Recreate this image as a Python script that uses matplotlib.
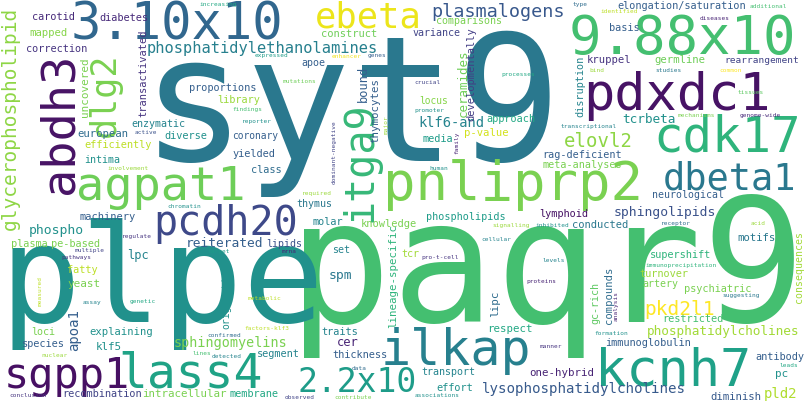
import matplotlib
matplotlib.use("Agg")
import matplotlib.pyplot as plt

# ---- data: the words of the cloud, grouped by weight ----
big_words = ["syt9", "paqr9", "plpe"]
large_words = ["3.10x10", "9.88x10", "pdxdc1", "cdk17", "pnliprp2", "agpat1",
               "kcnh7", "ilkap", "lass4", "abdh3", "sgpp1", "itga9", "pcdh20",
               "dbeta1", "ebeta", "dlg2", "2.2x10"]
medium_words = ["plasmalogens", "glycerophospholipid", "elovl2", "pkd2l1", "pld2",
                "phosphatidylethanolamines", "lysophosphatidylcholines",
                "phosphatidylcholines", "sphingomyelins", "sphingolipids",
                "reiterated", "phospho", "klf6-and", "tcrbeta", "spm", "cer", "lpc",
                "apoa1", "ceramides", "bound", "uncovered", "lipc"]
small_words = ["carotid", "diabetes", "mapped", "correction", "comparisons", "construct",
               "variance", "apoe", "p-value", "media", "locus", "approach", "basis",
               "kruppel", "germline", "rearrangement", "elongation/saturation",
               "rag-deficient", "meta-analyses", "neurological", "lymphoid", "conducted",
               "motifs", "supershift", "thymus", "phospholipids", "molar", "knowledge",
               "set", "tcr", "lipids", "traits", "respect", "thickness", "segment",
               "transport", "effort", "membrane", "one-hybrid", "european", "diverse",
               "coronary", "efficiently", "yielded", "intima", "class", "machinery",
               "plasma", "pe-based", "fatty", "yeast", "loci", "explaining", "species",
               "klf5", "recombination", "intracellular", "proportions", "library",
               "enzymatic", "turnover", "artery", "psychiatric", "restricted",
               "immunoglobulin", "antibody", "pc", "diminish", "transactivated",
               "developmentally", "thymocytes", "disruption", "consequences",
               "lineage-specific", "originating", "gc-rich", "compounds"]
tiny_words = ["increasing", "expressed", "enhancer", "genes", "mutations", "crucial",
              "promoter", "processes", "human", "type", "identified", "additional",
              "diseases", "bind", "studies", "common", "tissues", "mechanisms",
              "genome-wide", "transcriptional", "inhibited", "receptor", "acid", "levels",
              "immunoprecipitation", "required", "signalling", "cellular", "pro-t-cell",
              "mrna", "metabolic", "factors-klf3", "data", "observed", "contribute",
              "associations", "proteins", "suggesting", "formation", "manner", "leads",
              "active", "involvement", "chromatin", "regulate", "multiple", "pathways",
              "target", "assay", "genetic", "confirmed", "nuclear", "lines", "detected",
              "conclusion", "findings", "reporter", "dominant-negative", "family",
              "major", "measured", "analysis"]

# ---- layout (pixel positions of the cloud, not data) ----
# word: (x, y, size_px, rotation, viridis_value)
# horizontal: x = left ink edge, y = baseline ; vertical: x = baseline, y = ink start (bottom)
LAYOUT = {
    "syt9": (157, 161, 175, 0, 0.40),
    "plpe": (12, 322, 135, 0, 0.50),
    "paqr9": (303, 322, 172, 0, 0.70),
    "3.10x10": (75, 39, 50.5, 0, 0.33),
    "9.88x10": (573, 54, 54, 0, 0.70),
    "pdxdc1": (588, 110, 52, 0, 0.05),
    "cdk17": (658, 152, 49, 0, 0.65),
    "dbeta1": (666, 190, 37, 0, 0.40),
    "pnliprp2": (388, 200, 54, 0, 0.80),
    "agpat1": (80, 200, 47, 0, 0.78),
    "pcdh20": (157, 235, 40, 0, 0.22),
    "ilkap": (385, 365, 50, 0, 0.43),
    "kcnh7": (600, 385, 52, 0, 0.57),
    "lass4": (123, 388, 48, 0, 0.58),
    "sgpp1": (7, 388, 42, 0, 0.04),
    "2.2x10": (300, 392, 33, 0, 0.55),
    "ebeta": (318, 28, 35.5, 0, 0.97),
    "abdh3": (72, 190, 47, 90, 0.05),
    "dlg2": (115, 134, 35, 90, 0.80),
    "itga9": (372, 218, 40, 90, 0.67),
    "plasmalogens": (433, 17, 18.5, 0, 0.27),
    "glycerophospholipid": (16, 228, 19.5, 90, 0.83),
    "elovl2": (566, 147, 19, 0, 0.83),
    "pkd2l1": (646, 315, 19.5, 0, 1.00),
    "pld2": (765, 398, 14, 0, 0.88),
    "phosphatidylethanolamines": (148, 53, 15.4, 0, 0.43),
    "lysophosphatidylcholines": (483, 393, 14.1, 0, 0.28),
    "phosphatidylcholines": (648, 335, 12.8, 0, 0.86),
    "sphingomyelins": (175, 347, 13.5, 0, 0.80),
    "sphingolipids": (615, 216, 13, 0, 0.25),
    "reiterated": (187, 247, 12.9, 0, 0.30),
    "phospho": (30, 234, 13, 0, 0.50),
    "klf6-and": (420, 127, 13.8, 0, 0.45),
    "tcrbeta": (623, 123, 12.7, 0, 0.50),
    "spm": (330, 279, 13, 0, 0.40),
    "cer": (338, 346, 12, 0, 0.10),
    "lpc": (128, 259, 12, 0, 0.45),
    "apoa1": (78, 350, 14, 90, 0.30),
    "ceramides": (467, 116, 12.5, 90, 0.78),
    "bound": (367, 101, 12, 90, 0.30),
    "uncovered": (88, 116, 11, 90, 0.80),
    "lipc": (498, 316, 11, 90, 0.35),
    # small
    "carotid": (33, 20, 10.2, 0, 0.12),
    "diabetes": (100, 21, 10.2, 0, 0.12),
    "mapped": (30, 36, 10.6, 0, 0.82),
    "correction": (27, 52, 10.2, 0, 0.15),
    "comparisons": (437, 24, 10, 0, 0.80),
    "construct": (322, 37, 10.4, 0, 0.78),
    "variance": (413, 36, 10, 0, 0.20),
    "apoe": (302, 66, 10, 0, 0.30),
    "p-value": (465, 136, 10.5, 0, 0.93),
    "media": (423, 142, 10.3, 0, 0.55),
    "locus": (420, 104, 9.7, 0, 0.82),
    "approach": (487, 122, 10.2, 0, 0.60),
    "basis": (610, 31, 10.3, 0, 0.30),
    "kruppel": (588, 63, 10.5, 0, 0.15),
    "germline": (655, 63, 10.6, 0, 0.78),
    "rearrangement": (725, 63, 9.5, 0, 0.20),
    "elongation/saturation": (618, 9, 10.2, 0, 0.30),
    "rag-deficient": (543, 158, 10.1, 0, 0.30),
    "meta-analyses": (543, 168, 10.1, 0, 0.80),
    "neurological": (653, 198, 9.9, 0, 0.30),
    "lymphoid": (540, 217, 10.2, 0, 0.05),
    "conducted": (573, 228, 10.4, 0, 0.40),
    "motifs": (738, 241, 10.6, 0, 0.40),
    "supershift": (651, 258, 10.2, 0, 0.65),
    "thymus": (297, 207, 10, 0, 0.40),
    "phospholipids": (427, 220, 10.1, 0, 0.55),
    "molar": (313, 225, 10.3, 0, 0.45),
    "knowledge": (362, 227, 10.4, 0, 0.80),
    "set": (333, 253, 10, 0, 0.45),
    "tcr": (402, 257, 10, 0, 0.86),
    "lipids": (267, 247, 10, 0, 0.25),
    "traits": (322, 335, 10.3, 0, 0.45),
    "respect": (488, 332, 10.7, 0, 0.60),
    "thickness": (333, 358, 10.2, 0, 0.30),
    "segment": (258, 357, 10.2, 0, 0.45),
    "transport": (422, 375, 10, 0, 0.45),
    "effort": (437, 391, 10.3, 0, 0.50),
    "membrane": (230, 397, 10.2, 0, 0.60),
    "one-hybrid": (530, 376, 10.7, 0, 0.10),
    "european": (78, 137, 10.6, 0, 0.35),
    "diverse": (165, 139, 10.2, 0, 0.50),
    "coronary": (233, 139, 9.6, 0, 0.30),
    "efficiently": (85, 148, 10.3, 0, 0.90),
    "yielded": (233, 157, 10.2, 0, 0.30),
    "intima": (85, 163, 10, 0, 0.50),
    "class": (252, 173, 10.3, 0, 0.35),
    "machinery": (80, 220, 10.4, 0, 0.30),
    "plasma": (12, 247, 10.3, 0, 0.80),
    "pe-based": (52, 247, 10.2, 0, 0.80),
    "fatty": (68, 273, 10.3, 0, 0.90),
    "yeast": (68, 287, 11, 0, 0.80),
    "loci": (32, 335, 10, 0, 0.80),
    "explaining": (90, 335, 10.5, 0, 0.50),
    "species": (23, 347, 10.2, 0, 0.30),
    "klf5": (97, 350, 10.9, 0, 0.50),
    "recombination": (63, 397, 10.3, 0, 0.20),
    "intracellular": (143, 397, 10.9, 0, 0.80),
    "proportions": (190, 91, 10.3, 0, 0.30),
    "library": (218, 103, 10.2, 0, 0.85),
    "enzymatic": (132, 127, 10, 0, 0.45),
    "turnover": (640, 277, 10.2, 0, 0.85),
    "artery": (643, 287, 10, 0, 0.80),
    "psychiatric": (685, 292, 10.2, 0, 0.80),
    "restricted": (663, 322, 10.2, 0, 0.70),
    "immunoglobulin": (606, 346, 10.2, 0, 0.30),
    "antibody": (756, 360, 10.3, 0, 0.30),
    "pc": (776, 377, 11, 0, 0.50),
    "diminish": (711, 400, 10.6, 0, 0.28),
    "transactivated": (146, 116, 10.4, 90, 0.15),
    "developmentally": (474, 120, 10.4, 90, 0.18),
    "thymocytes": (378, 142, 10.8, 90, 0.30),
    "disruption": (583, 116, 10.2, 90, 0.45),
    "consequences": (802, 302, 9.9, 90, 0.86),
    "lineage-specific": (396, 327, 10.7, 90, 0.65),
    "originating": (229, 328, 9.8, 90, 0.50),
    "gc-rich": (598, 323, 10, 90, 0.75),
    "compounds": (612, 323, 10.5, 90, 0.35),
    # tiny
    "increasing": (200, 6, 6.2, 0, 0.60),
    "expressed": (255, 57, 6.2, 0, 0.55),
    "enhancer": (332, 58, 6.2, 0, 0.98),
    "genes": (368, 57, 6.2, 0, 0.30),
    "mutations": (283, 83, 6.2, 0, 0.78),
    "crucial": (415, 84, 6.2, 0, 0.20),
    "promoter": (415, 112, 6.2, 0, 0.50),
    "processes": (502, 76, 6.2, 0, 0.60),
    "human": (430, 170, 6.2, 0, 0.50),
    "type": (573, 6, 6.2, 0, 0.35),
    "identified": (601, 13, 6.2, 0, 0.90),
    "additional": (750, 8, 6.2, 0, 0.70),
    "diseases": (700, 20, 6.2, 0, 0.10),
    "bind": (590, 72, 6.2, 0, 0.85),
    "studies": (656, 72, 6.2, 0, 0.40),
    "common": (720, 72, 6.2, 0, 1.00),
    "tissues": (738, 94, 6.2, 0, 0.75),
    "mechanisms": (678, 117, 6.2, 0, 0.80),
    "genome-wide": (740, 117, 6.2, 0, 0.12),
    "transcriptional": (561, 128, 6.2, 0, 0.45),
    "inhibited": (536, 227, 6.2, 0, 0.50),
    "receptor": (661, 225, 6.2, 0, 0.35),
    "acid": (751, 225, 6.2, 0, 0.85),
    "levels": (543, 262, 6.2, 0, 0.45),
    "immunoprecipitation": (646, 267, 6.2, 0, 0.65),
    "required": (302, 195, 6.2, 0, 0.85),
    "signalling": (493, 227, 6.2, 0, 0.85),
    "cellular": (482, 241, 6.2, 0, 0.45),
    "pro-t-cell": (422, 259, 6.2, 0, 0.15),
    "mrna": (282, 253, 6.2, 0, 0.10),
    "metabolic": (248, 300, 6.2, 0, 0.90),
    "factors-klf3": (245, 330, 6.2, 0, 0.90),
    "data": (352, 370, 6.2, 0, 0.35),
    "observed": (285, 399, 6.2, 0, 0.20),
    "contribute": (335, 399, 6.2, 0, 0.80),
    "associations": (415, 397, 6.2, 0, 0.50),
    "proteins": (527, 283, 6.2, 0, 0.10),
    "suggesting": (723, 297, 6.2, 0, 0.40),
    "formation": (595, 335, 6.2, 0, 0.50),
    "manner": (540, 348, 6.2, 0, 0.15),
    "leads": (780, 367, 6.2, 0, 0.60),
    "active": (135, 134, 6.2, 0, 0.25),
    "involvement": (108, 170, 6.2, 0, 0.85),
    "chromatin": (168, 208, 6.2, 0, 0.50),
    "regulate": (122, 238, 6.2, 0, 0.15),
    "multiple": (75, 252, 6.2, 0, 0.20),
    "pathways": (62, 259, 6.2, 0, 0.15),
    "target": (208, 253, 6.2, 0, 0.55),
    "assay": (83, 304, 6.2, 0, 0.45),
    "genetic": (130, 303, 6.2, 0, 0.60),
    "confirmed": (208, 337, 6.2, 0, 0.35),
    "nuclear": (42, 357, 6.2, 0, 0.85),
    "lines": (193, 355, 6.2, 0, 0.70),
    "detected": (212, 358, 6.2, 0, 0.45),
    "conclusion": (10, 397, 6.2, 0, 0.15),
    "findings": (233, 111, 6.2, 0, 0.70),
    "reporter": (242, 123, 6.2, 0, 0.50),
    "dominant-negative": (336, 183, 6.2, 90, 0.20),
    "family": (458, 153, 6.2, 90, 0.10),
    "major": (388, 133, 6.2, 90, 0.85),
    "measured": (42, 305, 6.2, 90, 0.90),
    "analysis": (618, 320, 6.2, 90, 0.10),
}

BEARING = 0.09   # left side bearing of the mono font, in em

W, H, DPI = 808, 404, 100
fig = plt.figure(figsize=(W / DPI, H / DPI), dpi=DPI, facecolor="white")
ax = fig.add_axes([0, 0, 1, 1])
ax.set_xlim(0, W)
ax.set_ylim(H, 0)
ax.axis("off")

cmap = plt.get_cmap("viridis")
for group in (big_words, large_words, medium_words, small_words, tiny_words):
    for w in group:
        x, y, px, rot, cv = LAYOUT[w]
        if rot == 0:
            x = x - BEARING * px
        else:
            y = y + BEARING * px
        ax.text(x, y, w, fontsize=px * 72 / DPI, family="DejaVu Sans Mono",
                color=cmap(cv), ha="left", va="baseline", rotation=rot,
                rotation_mode="anchor")

fig.savefig("out.png", dpi=DPI, facecolor="white")
